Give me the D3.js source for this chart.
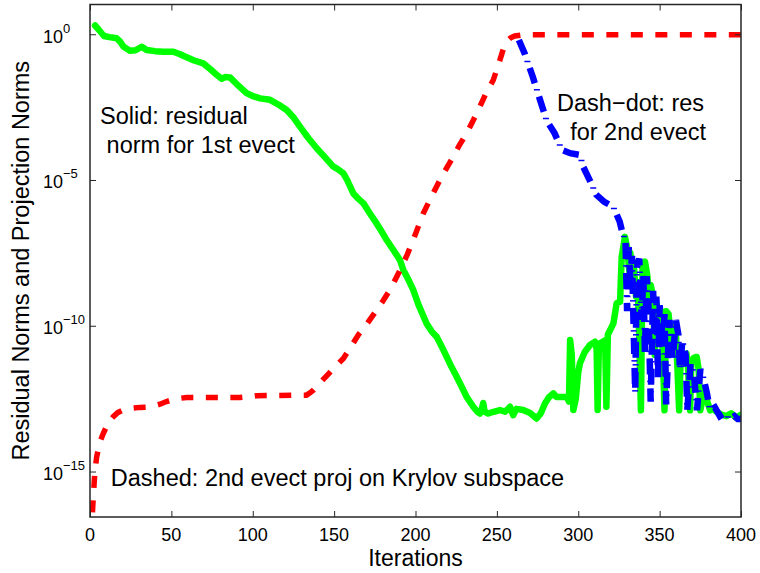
<!DOCTYPE html>
<html><head><meta charset="utf-8">
<script src="https://cdn.jsdelivr.net/npm/d3@7/dist/d3.min.js"></script>
<style>
body{margin:0;background:#fff}
svg{display:block}
text{font-family:"Liberation Sans",Arial,Helvetica,sans-serif;fill:#000}
</style>
</head><body>
<svg id="chart" width="760" height="573"></svg>
<script>
// ---- data (y values given as log10 exponents) ----
const xTicks = [0, 50, 100, 150, 200, 250, 300, 350, 400];
const yTickExps = [0, -5, -10, -15];
const xDomain = [0, 400];
const yDomainExp = [-16.56, 1.02];

// Solid green: residual norm for 1st eigenvector
const resid1Iter = [3.1,5,8.6,12,16.4,18.5,20.5,24.6,28,31.8,34.8,40,45,51.2,55,59.4,64,69.6,74,78,80.9,83,86,90,96.2,100,104.5,110.6,116,120.8,125,129,134,139.3,144,149.5,152,155.7,158,161.8,165,168,172,176.1,179,182.3,186.4,190.5,192.5,195.5,198.6,202,206.8,210,213,216,219.1,222,225.3,228,231.4,235.5,238,239.6,241,241.6,242.5,244.7,248,251.9,255,258.1,260,262,266.2,270.4,274.4,277,279.6,282,284.7,286.5,288.8,292.9,294.3,295,296,297,298.5,300,301,304,307.2,310.3,311.3,311.9,312.6,313.4,316.5,317.3,318.2,320,321.6,323.6,325.7,326.7,328.7,330,331.5,332,333,334,335.5,336.5,337.5,338.5,339.5,341,342.5,343.5,344.5,346,347,348,349.5,351,352,353,354,355.5,357,358.5,360,361,362,363,365,366.5,367.5,368.7,369.5,371,372.8,374,375,376.5,378,379,381,383,385,388,391,394,397,400];
const resid1Exp = [0.30,0.18,-0.06,-0.1,-0.14,-0.25,-0.42,-0.57,-0.55,-0.43,-0.54,-0.58,-0.6,-0.60,-0.68,-0.79,-0.9,-1.0,-1.2,-1.4,-1.53,-1.47,-1.48,-1.7,-2.02,-2.12,-2.2,-2.25,-2.42,-2.6,-2.85,-3.17,-3.55,-3.91,-4.2,-4.54,-4.62,-4.77,-5.0,-5.46,-5.65,-5.80,-6.15,-6.49,-6.75,-7.06,-7.4,-7.75,-8.09,-8.4,-8.77,-9.3,-9.92,-10.2,-10.38,-10.7,-11.06,-11.4,-11.75,-12.05,-12.44,-12.78,-12.95,-13.01,-12.8,-12.65,-12.95,-13.01,-12.95,-12.89,-12.95,-12.78,-13.07,-12.85,-12.89,-12.99,-13.18,-13.0,-12.66,-12.45,-12.32,-12.44,-12.44,-12.44,-12.6,-10.49,-11.0,-12.89,-12.5,-11.6,-11.29,-10.9,-10.66,-10.55,-10.8,-12.89,-10.9,-10.6,-10.5,-12.78,-10.3,-10.1,-9.92,-9.23,-9.18,-7.63,-6.95,-7.3,-8.2,-7.5,-8.0,-7.8,-9.0,-8.5,-10.5,-12.9,-8.0,-7.8,-8.3,-9.5,-8.6,-9.0,-11.0,-9.2,-10.0,-9.5,-11.0,-12.9,-9.5,-9.6,-10.5,-10.0,-10.3,-11.5,-12.9,-11.0,-11.0,-10.95,-11.5,-12.9,-11.2,-11.1,-11.07,-11.5,-12.9,-12.5,-12.2,-12.55,-12.9,-12.85,-12.95,-13.05,-13.1,-13.0,-13.15,-13.05];

// Dashed red: 2nd eigenvector projection on Krylov subspace
const projIter = [1.5,2,3,4.1,6,8.2,11,14.3,17,20.5,25,30.7,35,39,43,47,51.2,55,59.4,70,80,92,100,102.4,115,125,133,135.2,137.2,141,145.4,150,155.7,160,165,170,175,180,185,190,195,200,204.8,210,215,219,223.2,227,231.4,235.5,239.6,243.5,247.8,251.9,254,256,258.5,261,265,270,300,350,400];
const projExp = [-16.4,-15.9,-15.0,-14.5,-14.0,-13.69,-13.35,-13.12,-12.98,-12.89,-12.83,-12.8,-12.79,-12.75,-12.69,-12.6,-12.53,-12.49,-12.46,-12.46,-12.46,-12.46,-12.42,-12.4,-12.39,-12.38,-12.38,-12.3,-12.21,-11.98,-11.72,-11.45,-11.12,-10.75,-10.3,-9.95,-9.55,-9.15,-8.7,-8.15,-7.55,-6.85,-6.14,-5.55,-5.0,-4.6,-4.2,-3.8,-3.40,-2.95,-2.48,-2.0,-1.57,-0.88,-0.5,-0.25,-0.12,-0.06,-0.03,-0.02,-0.02,-0.02,-0.02];

// Dash-dot blue: residual for 2nd eigenvector
const resid2Iter = [263.5,267,272,276.5,280.5,285.5,290,295,301,303,307,311,316,321.5,325.5,327.5,329,330,331,332,333,334,335,336,337.5,339,340,341,342,343,344.5,346,347,348,349,350,352,353,354,356,358,360,361.5,362.5,364,366,367,369,371,373,375,377,379,381,384,387,390,393,396,398,400];
const resid2Exp = [-0.2,-0.65,-1.45,-2.25,-2.95,-3.4,-3.97,-4.08,-4.14,-4.54,-5.0,-5.5,-5.75,-5.92,-6.43,-6.9,-7.0,-9.5,-7.3,-8.4,-7.6,-10.0,-12.3,-8.0,-7.7,-9.8,-8.2,-11.0,-8.3,-9.0,-12.6,-8.8,-10.5,-9.0,-11.8,-9.3,-10.5,-9.6,-12.7,-9.8,-11.2,-9.8,-10.3,-11.5,-10.5,-11.0,-12.9,-11.3,-11.6,-12.9,-11.5,-11.8,-12.3,-12.9,-12.8,-13.1,-13.0,-13.2,-13.1,-13.2,-13.2];

const xLabel = "Iterations";
const yLabel = "Residual Norms and Projection Norms";
const annotations = [
  {lines: ["Solid: residual", " norm for 1st evect"], it: 6.2, exp: -3.07},
  {lines: ["Dash\u2212dot: res", "  for 2nd evect"], it: 287, exp: -2.63},
  {lines: ["Dashed: 2nd evect proj on Krylov subspace"], it: 12.8, exp: -15.5}
];

// ---- layout ----
const M = {left: 90, right: 741, top: 4.5, bottom: 517};
const svg = d3.select("#chart");
const x = d3.scaleLinear().domain(xDomain).range([M.left, M.right]);
const y = d3.scaleLog().domain([Math.pow(10, yDomainExp[0]), Math.pow(10, yDomainExp[1])]).range([M.bottom, M.top]);

svg.append("defs").append("clipPath").attr("id", "clip")
  .append("rect").attr("x", M.left).attr("y", M.top)
  .attr("width", M.right - M.left).attr("height", M.bottom - M.top);

const toPts = (its, exps) => its.map((v, i) => ({it: v, val: Math.pow(10, exps[i])}));
const line = d3.line().x(d => x(d.it)).y(d => y(d.val)).curve(d3.curveLinear);

const plot = svg.append("g").attr("clip-path", "url(#clip)");

plot.append("path").datum(toPts(resid1Iter, resid1Exp))
  .attr("d", line).attr("fill", "none").attr("stroke", "#00ff00")
  .attr("stroke-width", 6.5).attr("stroke-linejoin", "round").attr("stroke-linecap", "round");

plot.append("path").datum(toPts(projIter, projExp))
  .attr("d", line).attr("fill", "none").attr("stroke", "#ff0000")
  .attr("stroke-width", 5.5).attr("stroke-dasharray", "12,12.5");

const blue = plot.append("path").datum(toPts(resid2Iter, resid2Exp))
  .attr("d", line).attr("fill", "none").attr("stroke", "#0000ff")
  .attr("stroke-width", 6.5).attr("stroke-dasharray", "16,14");
// thin "dot" marks of the dash-dot pattern
const bn = blue.node();
const L = bn.getTotalLength();
const marks = [];
for (let s = 23; s < L; s += 30) marks.push(bn.getPointAtLength(s));
plot.selectAll("line.dot").data(marks).enter().append("line")
  .attr("x1", p => p.x - 3).attr("x2", p => p.x + 3)
  .attr("y1", p => p.y).attr("y2", p => p.y)
  .attr("stroke", "#0000ff").attr("stroke-width", 1.5);

// ---- axes (inward ticks, MATLAB box) ----
const tickLen = 6;
const yTickVals = yTickExps.map(e => Math.pow(10, e));
const axes = [
  [d3.axisBottom(x).tickValues(xTicks), `translate(0,${M.bottom})`],
  [d3.axisTop(x).tickValues(xTicks), `translate(0,${M.top})`],
  [d3.axisLeft(y).tickValues(yTickVals), `translate(${M.left},0)`],
  [d3.axisRight(y).tickValues(yTickVals), `translate(${M.right},0)`]
];
axes.forEach(([ax, tr]) => {
  const g = svg.append("g").attr("transform", tr)
    .call(ax.tickSizeInner(-tickLen).tickSizeOuter(0).tickFormat(""));
  g.select(".domain").remove();
  g.selectAll(".tick line").attr("stroke", "#262626").attr("stroke-width", 1);
});
svg.append("rect").attr("x", M.left).attr("y", M.top)
  .attr("width", M.right - M.left).attr("height", M.bottom - M.top)
  .attr("fill", "none").attr("stroke", "#262626").attr("stroke-width", 1.5);

// x tick labels
svg.append("g").selectAll("text").data(xTicks).enter().append("text")
  .attr("x", d => x(d)).attr("y", M.bottom + 24)
  .attr("text-anchor", "middle").attr("font-size", 18).text(d => d);

// y tick labels 10^e
const yl = svg.append("g").selectAll("text").data(yTickExps).enter().append("text")
  .attr("x", 43).attr("y", d => y(Math.pow(10, d)) + 8.5).attr("font-size", 18);
yl.append("tspan").text("10");
yl.append("tspan").attr("dy", -10).attr("font-size", 13)
  .text(d => d < 0 ? "\u2212" + Math.abs(d) : String(d));

// axis labels
svg.append("text").attr("x", (M.left + M.right) / 2).attr("y", 566)
  .attr("text-anchor", "middle").attr("font-size", 23).text(xLabel);
svg.append("text").attr("transform", `translate(28.5,${(M.top + M.bottom) / 2}) rotate(-90)`)
  .attr("text-anchor", "middle").attr("font-size", 23.5).text(yLabel);

// annotations
annotations.forEach(a => {
  const t = svg.append("text").attr("font-size", 23.5)
    .attr("x", x(a.it)).attr("y", y(Math.pow(10, a.exp)))
    .attr("xml:space", "preserve").style("white-space", "pre");
  a.lines.forEach((ln, i) => {
    t.append("tspan").attr("x", x(a.it)).attr("dy", i === 0 ? 0 : 29).text(ln);
  });
});
</script>
</body></html>
